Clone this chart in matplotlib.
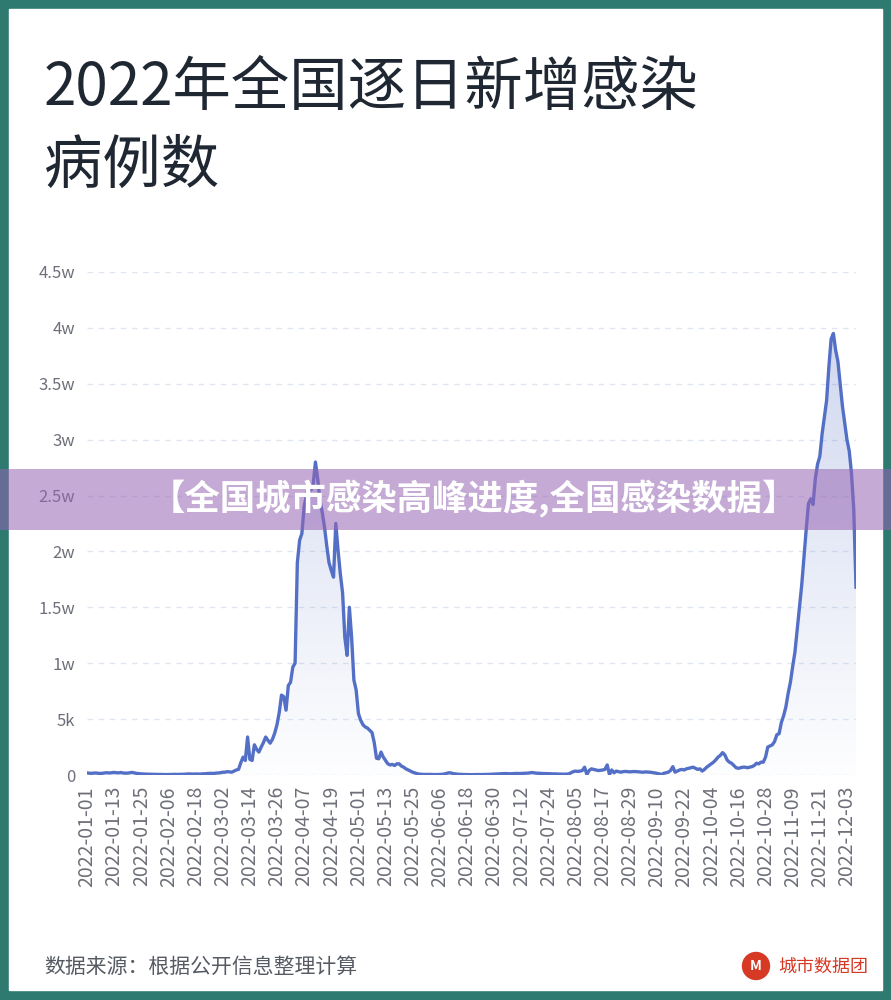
import numpy as np
import matplotlib.pyplot as plt
from matplotlib.patches import Rectangle, Ellipse
from datetime import date, timedelta

plt.rcParams['font.family'] = ['Noto Sans CJK SC', 'DejaVu Sans']

# daily new infections, 2022-01-01 .. 2022-12-07
jan = [190, 160, 150, 170, 180, 150, 140, 160, 190, 200, 180, 210, 230, 200, 190, 220,
       180, 160, 170, 200, 230, 180, 140, 120, 100, 90, 80, 70, 70, 60, 60]
feb = [50, 50, 50, 40, 40, 40, 50, 50, 60, 50, 60, 60, 70, 80, 100, 90, 80, 90, 90, 80,
       100, 110, 130, 140, 150, 140, 170, 180]
mar = [200, 250, 250, 300, 280, 250, 350, 450, 500, 1100, 1600, 1300, 3400, 1400, 1300,
       2700, 2300, 2050, 2500, 2900, 3400, 3100, 2850, 3200, 3750, 4500, 5600, 7150, 7000,
       5800, 8000]
apr = [8300, 9650, 10000, 19000, 21000, 21600, 24000, 25000, 26100, 25500, 26000, 28000,
       26500, 24600, 23500, 22200, 20500, 19000, 18300, 17700, 22500, 20100, 18000, 16300,
       12300, 10700, 15000, 12300, 8500, 7600]
may = [5500, 4900, 4500, 4300, 4200, 4000, 3800, 2900, 1500, 1450, 2050, 1600, 1300, 1000,
       900, 950, 850, 1000, 1000, 800, 700, 550, 450, 350, 250, 180, 120, 80, 60, 50, 50]
jun = [50, 50, 40, 40, 40, 50, 60, 90, 150, 200, 180, 120, 90, 70, 60, 50, 40, 40, 30, 30,
       30, 40, 40, 40, 40, 50, 50, 60, 70, 80]
jul = [90, 100, 110, 120, 130, 120, 110, 120, 130, 140, 130, 140, 150, 160, 170, 200, 220,
       180, 160, 150, 140, 130, 120, 120, 110, 100, 100, 90, 80, 80, 70]
aug = [80, 100, 200, 300, 350, 320, 350, 400, 700, 50, 400, 550, 500, 450, 400, 420, 450,
       500, 900, 50, 450, 200, 350, 300, 250, 300, 320, 300, 280, 300, 310]
sep = [300, 280, 260, 250, 280, 260, 250, 220, 200, 150, 100, 50, 150, 200, 250, 400, 750,
       250, 350, 450, 500, 450, 550, 600, 650, 700, 600, 500, 550, 350]
oct_ = [500, 700, 850, 1000, 1150, 1350, 1600, 1750, 2000, 1800, 1350, 1150, 1050, 850, 650,
        600, 650, 700, 700, 650, 700, 750, 850, 1050, 1000, 1150, 1150, 1600, 2500, 2600, 2700]
nov = [3000, 3600, 3700, 4700, 5300, 6100, 7300, 8300, 9700, 11000, 13000, 15000, 17000,
       19500, 22000, 24300, 24700, 24200, 26500, 27800, 28500, 30500, 32000, 33500, 36500,
       39000, 39500, 38000, 37000, 35000]
dec = [33000, 31500, 30000, 29000, 27000, 23800, 16800]

cases = np.array(jan + feb + mar + apr + may + jun + jul + aug + sep + oct_ + nov + dec)
days = np.arange(len(cases))
start = date(2022, 1, 1)

tick_days = days[::12]
tick_labels = [(start + timedelta(days=int(d))).strftime('%Y-%m-%d') for d in tick_days]
y_ticks = [0, 5000, 10000, 15000, 20000, 25000, 30000, 35000, 40000, 45000]
y_labels = ['0', '5k', '1w', '1.5w', '2w', '2.5w', '3w', '3.5w', '4w', '4.5w']

line_color = '#5470c6'
label_color = '#6e7079'

fig = plt.figure(figsize=(8.91, 10), dpi=100, facecolor='#2e7a71')
fig.add_artist(Rectangle((9 / 891, 10 / 1000), 873 / 891, 981 / 1000,
                         transform=fig.transFigure, color='white', zorder=-5))

ax = fig.add_axes([87 / 891, 225 / 1000, 769 / 891, 503 / 1000])
ax.set_facecolor('none')

# gradient area under the curve
poly = ax.fill_between(days, cases, 0, color='none', lw=0)
grad = np.zeros((256, 1, 4))
grad[:, 0, :3] = np.array([84, 112, 198]) / 255
grad[:, 0, 3] = np.linspace(0.01, 0.27, 256)
im = ax.imshow(grad, extent=[0, days[-1], 0, cases.max()], origin='lower',
               aspect='auto', zorder=1)
im.set_clip_path(poly.get_paths()[0], transform=ax.transData)
ax.set_xlim(0, days[-1])
ax.set_ylim(0, 45000)

ax.plot(days, cases, color=line_color, lw=2.4, zorder=3, solid_joinstyle='round')

ax.set_yticks(y_ticks)
ax.set_yticklabels(y_labels)
ax.set_xticks(tick_days)
ax.set_xticklabels(tick_labels, rotation=90)
ax.tick_params(axis='y', length=0, pad=8.5, labelsize=12, labelcolor=label_color)
ax.tick_params(axis='x', length=0, pad=8, labelsize=14, labelcolor=label_color)
ax.yaxis.grid(True, linestyle=(0, (4, 4)), color='#e0e6f1', lw=1, zorder=0)
ax.set_axisbelow(True)
for s in ax.spines.values():
    s.set_visible(False)

# title
fig.text(44 / 891, 1 - 88 / 1000, '2022年全国逐日新增感染', fontsize=42,
         color='#1f2733', va='center', ha='left', weight='medium')
fig.text(44 / 891, 1 - 166 / 1000, '病例数', fontsize=42,
         color='#1f2733', va='center', ha='left', weight='medium')

# overlay banner
fig.add_artist(Rectangle((0, 1 - 530 / 1000), 1, 61 / 1000, transform=fig.transFigure,
                         color=(150 / 255, 100 / 255, 180 / 255), alpha=0.55, zorder=10, lw=0))
fig.text(474 / 891, 1 - 499 / 1000, '【全国城市感染高峰进度,全国感染数据】', fontsize=25.5,
         color='white', weight='bold', ha='center', va='center', zorder=11)

# footer
fig.text(44 / 891, 1 - 967 / 1000, '数据来源：根据公开信息整理计算', fontsize=15,
         color='#555a63', ha='left', va='center')
fig.add_artist(Ellipse((756 / 891, 1 - 966 / 1000), 27 / 891, 27 / 1000,
                       transform=fig.transFigure, color='#d63a25', zorder=5))
fig.text(756 / 891, 1 - 966 / 1000, 'M', fontsize=10, color='white', weight='bold',
         ha='center', va='center', zorder=6)
fig.text(868 / 891, 1 - 967 / 1000, '城市数据团', fontsize=13, color='#d63a25',
         ha='right', va='center')

fig.savefig('out.png', dpi=100, facecolor=fig.get_facecolor())
